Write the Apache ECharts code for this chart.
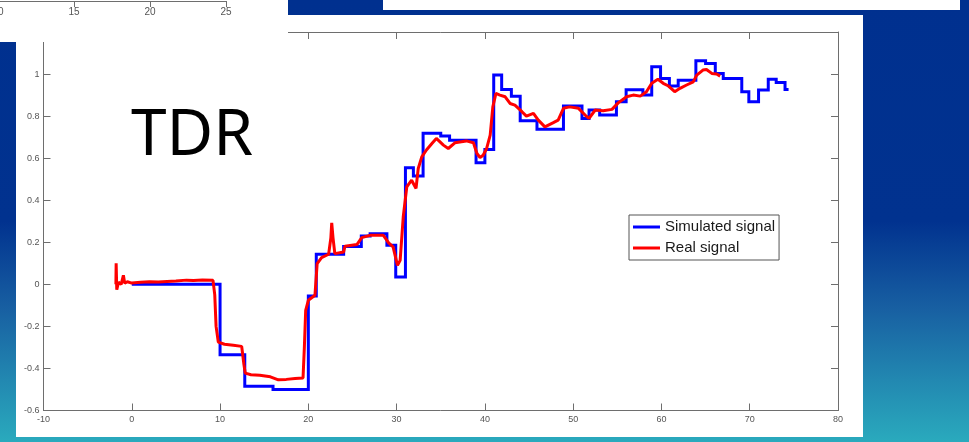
<!DOCTYPE html>
<html>
<head>
<meta charset="utf-8">
<script src="https://cdn.jsdelivr.net/npm/echarts@6/dist/echarts.min.js"></script>
<style>
  html, body { margin: 0; padding: 0; background: #ffffff; }
  #chart { width: 969px; height: 442px; }
</style>
</head>
<body>
<div id="chart"></div>
<script>
// Simulated TDR response: piecewise-constant levels (step starts at each time)
const simTime  = [0, 10.0, 12.8, 16.0, 20.0, 20.9, 24.0, 26.0, 27.0, 28.9, 29.9, 31.0, 31.9, 33.0, 35.0, 36.0,
                  39.0, 40.0, 41.0, 41.9, 43.0, 44.0, 45.9, 48.9, 51.0, 51.8, 53.0, 54.9, 56.0, 57.9, 58.9,
                  59.9, 60.9, 61.9, 63.9, 65.0, 66.1, 67.0, 69.1, 69.9, 71.0, 72.1, 73.0, 74.0, 74.4];
const simLevel = [0.0, -0.335, -0.485, -0.5, -0.056, 0.143, 0.18, 0.23, 0.24, 0.186, 0.035, 0.555, 0.515, 0.718, 0.705, 0.685,
                  0.578, 0.641, 0.995, 0.927, 0.895, 0.778, 0.738, 0.848, 0.789, 0.829, 0.805, 0.868, 0.925, 0.9, 1.035,
                  0.979, 0.943, 0.971, 1.063, 1.05, 1.003, 0.979, 0.916, 0.868, 0.924, 0.975, 0.96, 0.927, 0.927];

// Measured TDR response
const realTime  = [-1.8, -1.77, -1.7, -1.5, -1.2, -0.95, -0.8, -0.5, 0, 1, 2, 3, 4, 5, 6.2, 7, 8, 9.2,
                   9.4, 9.55, 9.8, 10.5, 11.5, 12.45, 12.7, 12.85, 13.5, 14.5, 15.7, 16.6, 17.5, 18.5, 19.4,
                   19.55, 19.7, 20.0, 20.75, 21.0, 21.5, 22.3, 22.55, 22.65, 22.8, 23.0, 24.0, 24.15, 25.5, 26.05,
                   27.0, 28.5, 29.1, 29.6, 30.1, 30.4, 30.75, 31.15, 31.7, 32.2, 32.45, 32.85, 33.4, 34.0, 34.5,
                   35.3, 35.85, 36.6, 37.9, 38.7, 39.1, 39.45, 39.8, 40.2, 40.6, 40.9, 41.25, 41.7, 42.3, 42.85,
                   43.4, 44.2, 44.7, 45.5, 46.05, 46.8, 47.7, 48.3, 48.9, 49.6, 50.6, 51.35, 51.8, 52.5, 53.4,
                   54.4, 55.1, 56.05, 56.8, 57.6, 58.3, 58.9, 59.6, 60.2, 60.8, 61.5, 62.1, 62.85, 63.6, 64.0,
                   64.7, 65.1, 65.7, 66.25, 66.65];
const realLevel = [0.0, 0.10, -0.025, 0.01, 0.0, 0.043, 0.005, 0.012, 0.006, 0.01, 0.012, 0.011, 0.014, 0.016, 0.02, 0.018, 0.021, 0.019,
                   -0.05, -0.2, -0.275, -0.285, -0.29, -0.295, -0.38, -0.422, -0.43, -0.432, -0.44, -0.454, -0.452, -0.448, -0.445,
                   -0.3, -0.124, -0.076, -0.052, 0.098, 0.127, 0.143, 0.22, 0.292, 0.22, 0.146, 0.154, 0.181, 0.189, 0.222,
                   0.233, 0.233, 0.197, 0.178, 0.09, 0.114, 0.32, 0.463, 0.495, 0.456, 0.551, 0.606, 0.64, 0.67, 0.694,
                   0.662, 0.646, 0.673, 0.682, 0.673, 0.622, 0.603, 0.614, 0.646, 0.71, 0.844, 0.908, 0.9, 0.892, 0.86,
                   0.852, 0.821, 0.8, 0.813, 0.781, 0.749, 0.768, 0.781, 0.837, 0.844, 0.837, 0.805, 0.789, 0.829, 0.825,
                   0.832, 0.863, 0.892, 0.9, 0.895, 0.916, 0.956, 0.975, 0.956, 0.943, 0.916, 0.932, 0.948, 0.963, 0.995,
                   1.019, 1.022, 1.003, 1.0, 0.99];

const seriesNames = ['Simulated signal', 'Real signal'];
const xRange = [-10, 80], xStep = 10;
const yRange = [-0.6, 1.2], yStep = 0.2;
// axis of the plot sitting above this one on the slide
const prevRange = [10, 25], prevStep = 5;

const zip = (xs, ys) => xs.map((x, i) => [x, ys[i]]);

const tickFont = { fontFamily: '"Liberation Sans", Arial, sans-serif', fontSize: 9, color: '#555' };
const axisGray = '#6e6e6e';

const chart = echarts.init(document.getElementById('chart'), null, { renderer: 'canvas' });

chart.setOption({
  animation: false,
  backgroundColor: 'transparent',
  graphic: [
    { type: 'rect', z: -100, silent: true, shape: { x: 0, y: 0, width: 969, height: 442 },
      style: { fill: new echarts.graphic.LinearGradient(0, 0, 0, 1, [
        { offset: 0, color: '#00308f' }, { offset: 0.5, color: '#01328f' },
        { offset: 0.7, color: '#1860a2' }, { offset: 0.86, color: '#2288b1' }, { offset: 1, color: '#2aaabd' }]) } },
    { type: 'rect', z: -90, silent: true, shape: { x: 383, y: 0, width: 577, height: 10 }, style: { fill: '#ffffff' } },
    { type: 'rect', z: -90, silent: true, shape: { x: 16, y: 15, width: 847, height: 422 }, style: { fill: '#ffffff' } },
    { type: 'rect', z: 10, silent: true, shape: { x: 0, y: 0, width: 288, height: 42 }, style: { fill: '#ffffff' } },
    { type: 'text', z: 10, silent: true, x: 131, y: 137,
      style: { text: 'TDR', font: '64px "Noto Sans", sans-serif', fill: '#000000', verticalAlign: 'middle', align: 'left' } }
  ],
  legend: {
    orient: 'vertical', left: 629, top: 215,
    padding: [4, 4, 4, 4], itemGap: 5,
    itemWidth: 27, itemHeight: 3,
    backgroundColor: '#ffffff', borderColor: '#555', borderWidth: 1, borderRadius: 0,
    textStyle: { fontFamily: '"Liberation Sans", Arial, sans-serif', fontSize: 15, color: '#1a1a1a', lineHeight: 16 },
    data: seriesNames.map(n => ({ name: n, icon: 'rect' }))
  },
  grid: [
    { left: 43.5, right: 131, top: 32, bottom: 31.5, outerBoundsMode: 'none', containLabel: false },
    { left: -2, top: -40, width: 228, height: 41, outerBoundsMode: 'none', containLabel: false }
  ],
  xAxis: [
    { type: 'value', gridIndex: 0, min: xRange[0], max: xRange[1], interval: xStep, position: 'bottom',
      axisLine: { onZero: false, lineStyle: { color: axisGray, width: 1 } },
      axisTick: { inside: true, length: 7, lineStyle: { color: axisGray } },
      axisLabel: Object.assign({ margin: 5 }, tickFont), splitLine: { show: false } },
    { type: 'value', gridIndex: 0, min: xRange[0], max: xRange[1], interval: xStep, position: 'top',
      axisLine: { onZero: false, lineStyle: { color: axisGray, width: 1 } },
      axisTick: { inside: true, length: 7, lineStyle: { color: axisGray } },
      axisLabel: { show: false }, splitLine: { show: false } },
    { type: 'value', gridIndex: 1, min: prevRange[0], max: prevRange[1], interval: prevStep, position: 'bottom', z: 20,
      axisLine: { onZero: false, lineStyle: { color: axisGray, width: 1 } },
      axisTick: { inside: false, length: 6, lineStyle: { color: axisGray } },
      axisLabel: Object.assign({ margin: 6 }, tickFont, { fontSize: 10 }), splitLine: { show: false } }
  ],
  yAxis: [
    { type: 'value', gridIndex: 0, min: yRange[0], max: yRange[1], interval: yStep, position: 'left',
      axisLine: { show: true, onZero: false, lineStyle: { color: axisGray, width: 1 } },
      axisTick: { show: true, inside: true, length: 7, lineStyle: { color: axisGray } },
      axisLabel: Object.assign({ margin: 4, formatter: v => String(Math.round(v * 10) / 10) }, tickFont),
      splitLine: { show: false } },
    { type: 'value', gridIndex: 0, min: yRange[0], max: yRange[1], interval: yStep, position: 'right',
      axisLine: { show: true, onZero: false, lineStyle: { color: axisGray, width: 1 } },
      axisTick: { show: true, inside: true, length: 7, lineStyle: { color: axisGray } },
      axisLabel: { show: false }, splitLine: { show: false } },
    { type: 'value', gridIndex: 1, show: false, min: 0, max: 1 }
  ],
  series: [
    { name: seriesNames[0], type: 'line', xAxisIndex: 0, yAxisIndex: 0, step: 'end',
      data: zip(simTime, simLevel), showSymbol: false, color: '#0000ff',
      lineStyle: { color: '#0000ff', width: 3, join: 'miter' } },
    { name: seriesNames[1], type: 'line', xAxisIndex: 0, yAxisIndex: 0,
      data: zip(realTime, realLevel), showSymbol: false, color: '#ff0000',
      lineStyle: { color: '#ff0000', width: 3 } }
  ]
});
</script>
</body>
</html>
